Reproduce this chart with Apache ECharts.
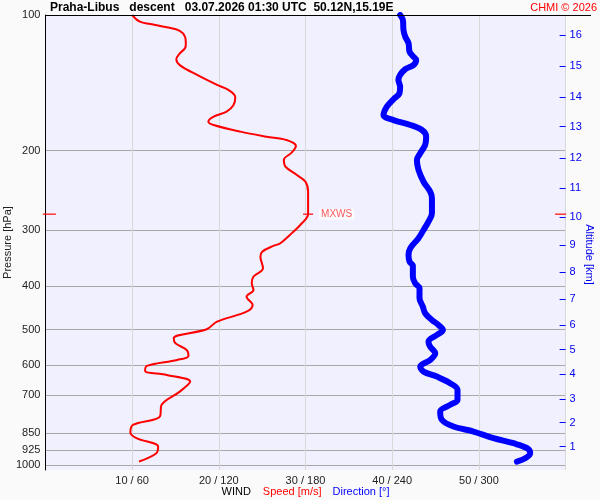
<!DOCTYPE html>
<html><head><meta charset="utf-8">
<script src="https://cdn.jsdelivr.net/npm/echarts@6/dist/echarts.min.js"></script>
<style>html,body{margin:0;padding:0;background:#fafafa}#c{width:600px;height:500px}</style>
</head><body><div id="c"></div>
<script>
const titleText = 'Praha-Libus   descent   03.07.2026 01:30 UTC  50.12N,15.19E';
const creditText = 'CHMI \u00A9 2026';
const pressureTicks = [100, 200, 300, 400, 500, 600, 700, 850, 925, 1000];
const altKm = [1, 2, 3, 4, 5, 6, 7, 8, 9, 10, 11, 12, 13, 14, 15, 16];
const altPressure = [909, 804, 712, 628, 554, 488, 428, 373, 324, 281, 242, 208, 177, 152, 130, 111];
const xTickSpeeds = [10, 20, 30, 40, 50];
const xTickLabels = ['10 / 60', '20 / 120', '30 / 180', '40 / 240', '50 / 300'];

const speedPressure = [100, 103.5, 104.7, 106.5, 108.4, 111.7, 115.5, 118.6, 121.7, 125.4, 129.2, 135.9, 143.0, 146.7, 152.3, 158.5, 164.0, 168.2, 172.6, 175.5, 181.6, 186.3, 189.5, 195.4, 202.2, 209.9, 217.3, 226.7, 234.6, 246.9, 276.7, 292.7, 308.0, 321.4, 325.8, 335.5, 344.2, 365.2, 381.3, 394.4, 408.1, 422.3, 440.6, 456.0, 479.9, 498.9, 522.4, 536.0, 554.7, 572.1, 583.9, 601.9, 617.5, 630.2, 652.1, 686.5, 734.6, 779.8, 813.6, 846.3, 871.0, 909.3, 940.5, 981.7];
const speedValues = [10.0, 10.9, 12.1, 14.0, 15.5, 16.1, 16.2, 16.1, 15.5, 15.1, 15.5, 17.5, 19.8, 21.1, 21.9, 21.7, 20.9, 19.4, 18.8, 19.4, 22.5, 25.5, 27.8, 28.9, 28.4, 27.5, 27.7, 29.0, 30.0, 30.3, 30.3, 29.4, 28.2, 27.1, 26.3, 25.0, 24.8, 25.1, 24.0, 23.8, 24.0, 23.2, 23.9, 23.2, 19.8, 18.6, 14.8, 15.0, 16.3, 16.5, 15.2, 11.7, 11.5, 14.0, 16.7, 15.5, 13.4, 13.2, 10.1, 9.8, 10.5, 13.0, 12.8, 10.8];

const dirPressure = [100, 102.6, 107.9, 111.7, 115.5, 120.7, 123.4, 125.9, 129.2, 132.0, 135.9, 139.4, 144.3, 149.3, 153.9, 159.8, 166.8, 171.2, 175.5, 180.1, 186.3, 194.4, 202.8, 209.9, 220.9, 234.6, 246.9, 255.4, 275.7, 287.7, 300.2, 313.3, 329.6, 341.2, 353.1, 361.0, 381.3, 394.4, 404.5, 425.8, 444.4, 459.7, 475.9, 488.2, 500.8, 513.8, 531.7, 545.5, 564.3, 583.9, 604.0, 619.6, 635.7, 657.5, 680.5, 716.1, 734.6, 760.3, 793.2, 820.7, 842.0, 871.0, 893.9, 916.7, 940.5, 964.9, 981.7];
const dirValues = [245.5, 247.4, 247.8, 249.0, 251.3, 252.0, 254.3, 256.6, 254.7, 249.0, 245.5, 244.3, 245.5, 245.0, 240.9, 236.3, 234.0, 240.9, 252.5, 260.6, 263.5, 262.8, 259.4, 257.1, 258.2, 261.7, 266.3, 267.5, 267.5, 265.1, 261.7, 258.2, 252.5, 251.3, 252.0, 254.3, 254.3, 255.9, 258.9, 258.9, 261.2, 262.8, 267.5, 272.0, 275.1, 270.9, 265.1, 266.3, 269.8, 266.3, 259.4, 261.7, 270.9, 280.1, 285.2, 285.2, 280.1, 273.2, 274.4, 282.4, 296.3, 310.1, 323.9, 333.3, 335.5, 332.1, 326.3];

const mxwsPressure = 277;
const mxwsSpeed = 30.3;
const speedRange = [0, 60];
const dirRange = [0, 360];
const pTop = 100, pBottom = 1025;

const lg = Math.log10;
const font = "'Liberation Sans', Arial, sans-serif";
const speedData = speedPressure.map((p, i) => [speedValues[i], lg(p)]);
const dirData = dirPressure.map((p, i) => [dirValues[i], lg(p)]);
const altLog = altPressure.map(lg);

const chart = echarts.init(document.getElementById('c'));
chart.setOption({
  backgroundColor: '#fafafa',
  animation: false,
  textStyle: { fontFamily: font },
  title: [
    { text: titleText, left: 50, top: 2, padding: 0,
      textStyle: { fontSize: 12, fontWeight: 'bold', color: '#000', fontFamily: font } },
    { text: creditText, right: 3, top: 2, padding: 0,
      textStyle: { fontSize: 11, fontWeight: 'normal', color: '#ff0000', fontFamily: font } }
  ],
  grid: { left: 45.4, right: 34.4, top: 15, bottom: 30, containLabel: false, outerBoundsMode: 'none',
    show: true, backgroundColor: '#f0f0ff', borderWidth: 0 },
  xAxis: [
    { type: 'value', min: speedRange[0], max: speedRange[1], interval: 10,
      axisLine: { show: false, onZero: false }, axisTick: { show: false },
      axisLabel: { showMinLabel: false, showMaxLabel: false, fontSize: 11, color: '#222', margin: 5,
        formatter: v => { const i = xTickSpeeds.indexOf(v); return i >= 0 ? xTickLabels[i] : ''; } },
      splitLine: { show: true, lineStyle: { color: '#d8d8d8', width: 1 } },
      name: '{k|WIND}{s|Speed [m/s]}{d|Direction [\u00B0]}',
      nameLocation: 'middle', nameGap: 16, nameMoveOverlap: false,
      nameTextStyle: { fontSize: 11, rich: {
        k: { color: '#000', fontSize: 11, fontFamily: font },
        s: { color: '#ff0000', fontSize: 11, fontFamily: font, padding: [0, 0, 0, 12] },
        d: { color: '#0000ff', fontSize: 11, fontFamily: font, padding: [0, 0, 0, 11] } } } },
    { type: 'value', min: dirRange[0], max: dirRange[1], show: false, splitLine: { show: false },
      axisLine: { onZero: false } }
  ],
  yAxis: [
    { type: 'value', min: lg(pTop), max: lg(pBottom), inverse: true, position: 'left',
      axisLine: { show: true, onZero: false, lineStyle: { color: '#000', width: 1 } },
      axisTick: { show: false, customValues: pressureTicks.map(lg) },
      axisLabel: { customValues: pressureTicks.map(lg), fontSize: 11, color: '#222', margin: 5,
        formatter: v => String(Math.round(Math.pow(10, v))) },
      splitLine: { show: true, lineStyle: { color: '#a8a8a8', width: 1 } },
      name: 'Pressure [hPa]', nameLocation: 'middle', nameGap: 32, nameMoveOverlap: false,
      nameTextStyle: { fontSize: 11, color: '#222' } },
    { type: 'value', min: lg(pTop), max: lg(pBottom), inverse: true, position: 'right',
      axisLine: { show: false, onZero: false },
      axisTick: { show: true, inside: true, length: 6, lineStyle: { color: '#0000ff', width: 1 }, customValues: altLog },
      axisLabel: { customValues: altLog, fontSize: 11, color: '#0000ee', margin: 4,
        formatter: v => { let b = 0; altLog.forEach((a, i) => { if (Math.abs(a - v) < Math.abs(altLog[b] - v)) b = i; }); return String(altKm[b]); } },
      splitLine: { show: false },
      name: 'Altitude [km]', nameLocation: 'middle', nameRotate: -90, nameGap: 18, nameMoveOverlap: false,
      nameTextStyle: { fontSize: 11, color: '#0000ee', padding: [0, 0, 0, 24] } }
  ],
  graphic: [
    { type: 'line', shape: { x1: 45, y1: 15.5, x2: 591, y2: 15.5 }, style: { stroke: '#000', lineWidth: 1 }, z: 100 }
  ],
  series: [
    { name: 'Direction', type: 'line', xAxisIndex: 1, yAxisIndex: 0, data: dirData,
      showSymbol: false, smooth: 0.35, lineStyle: { color: '#0000ff', width: 6, cap: 'round', join: 'round' }, z: 3 },
    { name: 'Speed', type: 'line', xAxisIndex: 0, yAxisIndex: 0, data: speedData,
      showSymbol: false, smooth: 0.35, lineStyle: { color: '#ff0000', width: 2, join: 'round' }, z: 4 },
    { name: 'MXWS', type: 'scatter', xAxisIndex: 0, yAxisIndex: 0, clip: false,
      data: [[mxwsSpeed, lg(mxwsPressure)]], symbol: 'rect', symbolSize: [10, 1.5],
      itemStyle: { color: '#ff0000' }, z: 5,
      label: { show: true, position: 'right', distance: 6, formatter: 'MXWS', color: '#ff3030', fontSize: 10,
        backgroundColor: '#ffffff', padding: [1, 2, 0, 2] } },
    { name: 'MXWS level L', type: 'scatter', xAxisIndex: 0, yAxisIndex: 0, clip: false,
      data: [[speedRange[0], lg(mxwsPressure)]], symbol: 'rect', symbolSize: [13, 1.5], symbolOffset: [4, 0],
      itemStyle: { color: '#ff0000' }, z: 6 },
    { name: 'MXWS level R', type: 'scatter', xAxisIndex: 0, yAxisIndex: 0, clip: false,
      data: [[speedRange[1], lg(mxwsPressure)]], symbol: 'rect', symbolSize: [11, 1.5], symbolOffset: [-5, 0],
      itemStyle: { color: '#ff0000' }, z: 6 }
  ]
});
</script></body></html>
